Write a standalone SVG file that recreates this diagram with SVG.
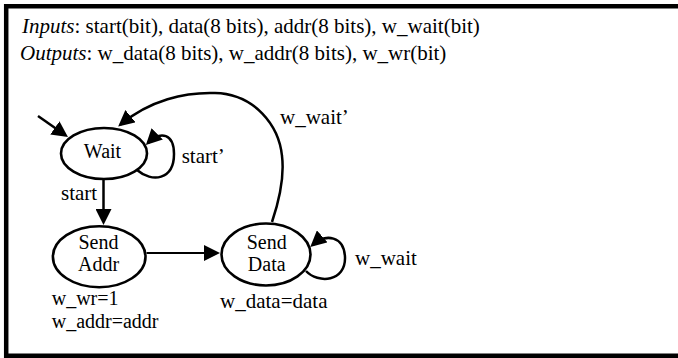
<svg xmlns="http://www.w3.org/2000/svg" width="678" height="358" viewBox="0 0 678 358">
<style>
  .t { font-family: 'Liberation Serif', Tinos, 'Times New Roman', Times, serif; fill: #000; }
  .hdr { font-size: 21px; }
  .it { font-style: italic; }
  .node ellipse { fill: #fff; stroke: #000; stroke-width: 2.6; }
  .nt { font-size: 20px; text-anchor: middle; }
  .lbl { font-size: 21px; }
  .sm { font-size: 20px; }
  .edge { fill: none; stroke: #000; stroke-width: 2.5; marker-end: url(#arrow); }
</style>
<defs>
  <marker id="arrow" markerUnits="userSpaceOnUse" markerWidth="17" markerHeight="16" refX="13" refY="8" orient="auto">
    <path d="M0,0 L16,8 L0,16 Z" fill="#000"/>
  </marker>
</defs>
<rect width="678" height="358" fill="#fff"/>
<path d="M678,6.2 H6.2 V355.8 H678" fill="none" stroke="#000" stroke-width="4.5"/>
<g id="header">
  <text class="t hdr" x="22" y="32.7"><tspan class="it">Inputs</tspan>: start(bit), data(8 bits), addr(8 bits), w_wait(bit)</text>
  <text class="t hdr" x="20" y="60"><tspan class="it">Outputs</tspan>: w_data(8 bits), w_addr(8 bits), w_wr(bit)</text>
</g>
<g id="connectors">
  <path class="edge" d="M38,116 L65.5,135.3"/>
  <path class="edge" d="M103.5,180 L103.5,222"/>
  <path class="edge" d="M146.5,253 L217,253" style="stroke-width:1.9"/>
  <path class="edge" d="M137,170 C152,183 174,180 174,154 C174,134 161,130 148,143"/>
  <path class="edge" d="M272,222 C278,204 285,180 282,156 C279,126 255,94 215,93 C185,92 150,100 120.5,124.5"/>
  <path class="edge" d="M306,271 C318,284 346,282 345,257 C344,236 326,233 312.5,245"/>
  <text class="t lbl" x="181.7" y="163.3">start’</text>
  <text class="t lbl" x="61" y="199.5">start</text>
  <text class="t lbl" x="280" y="124">w_wait’</text>
  <text class="t lbl" x="355" y="265">w_wait</text>
</g>
<g id="node-wait" class="node">
  <ellipse cx="104" cy="153.5" rx="43" ry="25.5"/>
  <text class="t nt" x="102.5" y="157.7">Wait</text>
</g>
<g id="node-sendaddr" class="node">
  <ellipse cx="99.2" cy="256.7" rx="46.3" ry="30.5"/>
  <text class="t nt" x="98.5" y="249.3">Send</text>
  <text class="t nt" x="98.5" y="271">Addr</text>
</g>
<g id="node-senddata" class="node">
  <ellipse cx="266" cy="254.5" rx="44.5" ry="31"/>
  <text class="t nt" x="266.7" y="249.3">Send</text>
  <text class="t nt" x="266.7" y="271">Data</text>
</g>
<g id="outputs">
  <text class="t sm" x="51.7" y="305.3">w_wr=1</text>
  <text class="t sm" x="51.7" y="327.8">w_addr=addr</text>
  <text class="t lbl" x="220" y="307.7">w_data=data</text>
</g>
</svg>
